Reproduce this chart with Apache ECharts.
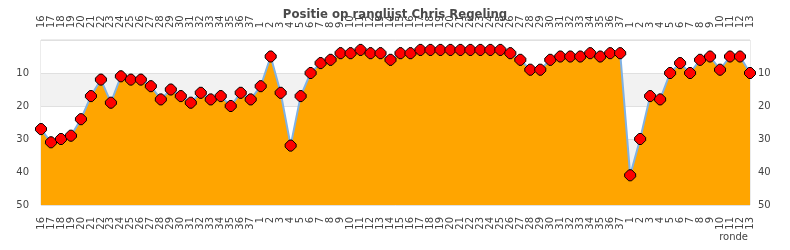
<!DOCTYPE html>
<html><head><meta charset="utf-8">
<script src="https://cdn.jsdelivr.net/npm/echarts@6/dist/echarts.min.js"></script>
<style>html,body{margin:0;padding:0;background:#fff}#c{width:790px;height:250px}</style>
</head><body><div id="c"></div>
<script>
const titleText = 'Positie op ranglijst Chris Regeling';
const rounds = ['16','17','18','19','20','21','22','23','24','25','26','27','28','29','30','31','32','33','34','35','36','37',
 '1','2','3','4','5','6','7','8','9','10','11','12','13','14','15','16','17','18','19','20','21','22','23','24','25','26','27','28','29','30','31','32','33','34','35','36','37',
 '1','2','3','4','5','6','7','8','9','10','11','12','13'];
const positions = [27,31,30,29,24,17,12,19,11,12,12,14,18,15,17,19,16,18,17,20,16,18,
 14,5,16,32,17,10,7,6,4,4,3,4,4,6,4,4,3,3,3,3,3,3,3,3,3,4,6,9,9,6,5,5,5,4,5,4,4,
 41,30,17,18,10,7,10,6,5,9,5,5,10];
const yTicks = [10,20,30,40,50];
const xName = 'ronde';

const chart = echarts.init(document.getElementById('c'), null, {renderer:'canvas'});
const labelFont = {fontFamily:'DejaVu Sans', fontSize:10, color:'#444'};
const xAxisBase = {
  type:'category', data:rounds, boundaryGap:false,
  axisLine:{show:false}, axisTick:{show:false}, splitLine:{show:false},
  axisLabel:Object.assign({interval:0, rotate:90, margin:12}, labelFont)
};
const yBase = {
  type:'value', min:0, max:50, interval:10, inverse:true,
  axisLine:{show:false}, axisTick:{show:false},
  axisLabel:Object.assign({formatter:v=> yTicks.includes(v)? String(v):''}, labelFont)
};
chart.setOption({
  animation:false,
  title:{text:titleText, left:'center', top:3,
    textStyle:{fontFamily:'DejaVu Sans Condensed, DejaVu Sans', fontSize:13, fontWeight:'bold', color:'#4a4a4a'}},
  grid:{left:41, right:40, top:40, bottom:45, show:true, borderColor:'#d8d8d8', borderWidth:1, backgroundColor:'transparent'},
  graphic:[{type:'text', right:42, top:232, style:{text:xName, fontFamily:'DejaVu Sans', fontSize:10, fill:'#444'}}],
  xAxis:[
    Object.assign({}, xAxisBase, {position:'bottom'}),
    Object.assign({}, xAxisBase, {position:'top'})
  ],
  yAxis:[
    Object.assign({}, yBase, {position:'left', axisLabel:Object.assign({}, yBase.axisLabel, {margin:12}),
      splitLine:{show:true, lineStyle:{color:'#e0e0e0'}},
      splitArea:{show:true, areaStyle:{color:['#ffffff','#f2f2f2']}}}),
    Object.assign({}, yBase, {position:'right', axisLabel:Object.assign({}, yBase.axisLabel, {margin:8}),
      splitLine:{show:false}})
  ],
  series:[{
    type:'line', data:positions, xAxisIndex:0, yAxisIndex:0,
    symbol:'path://M4,0 L7,0 L11,4 L11,7 L7,11 L4,11 L0,7 L0,4 Z', symbolSize:11,
    itemStyle:{color:'#ff0000', borderColor:'#000', borderWidth:1},
    lineStyle:{color:'#7fb2e5', width:2},
    areaStyle:{color:'#ffa500', opacity:1, origin:'end'}
  }]
});
</script></body></html>
